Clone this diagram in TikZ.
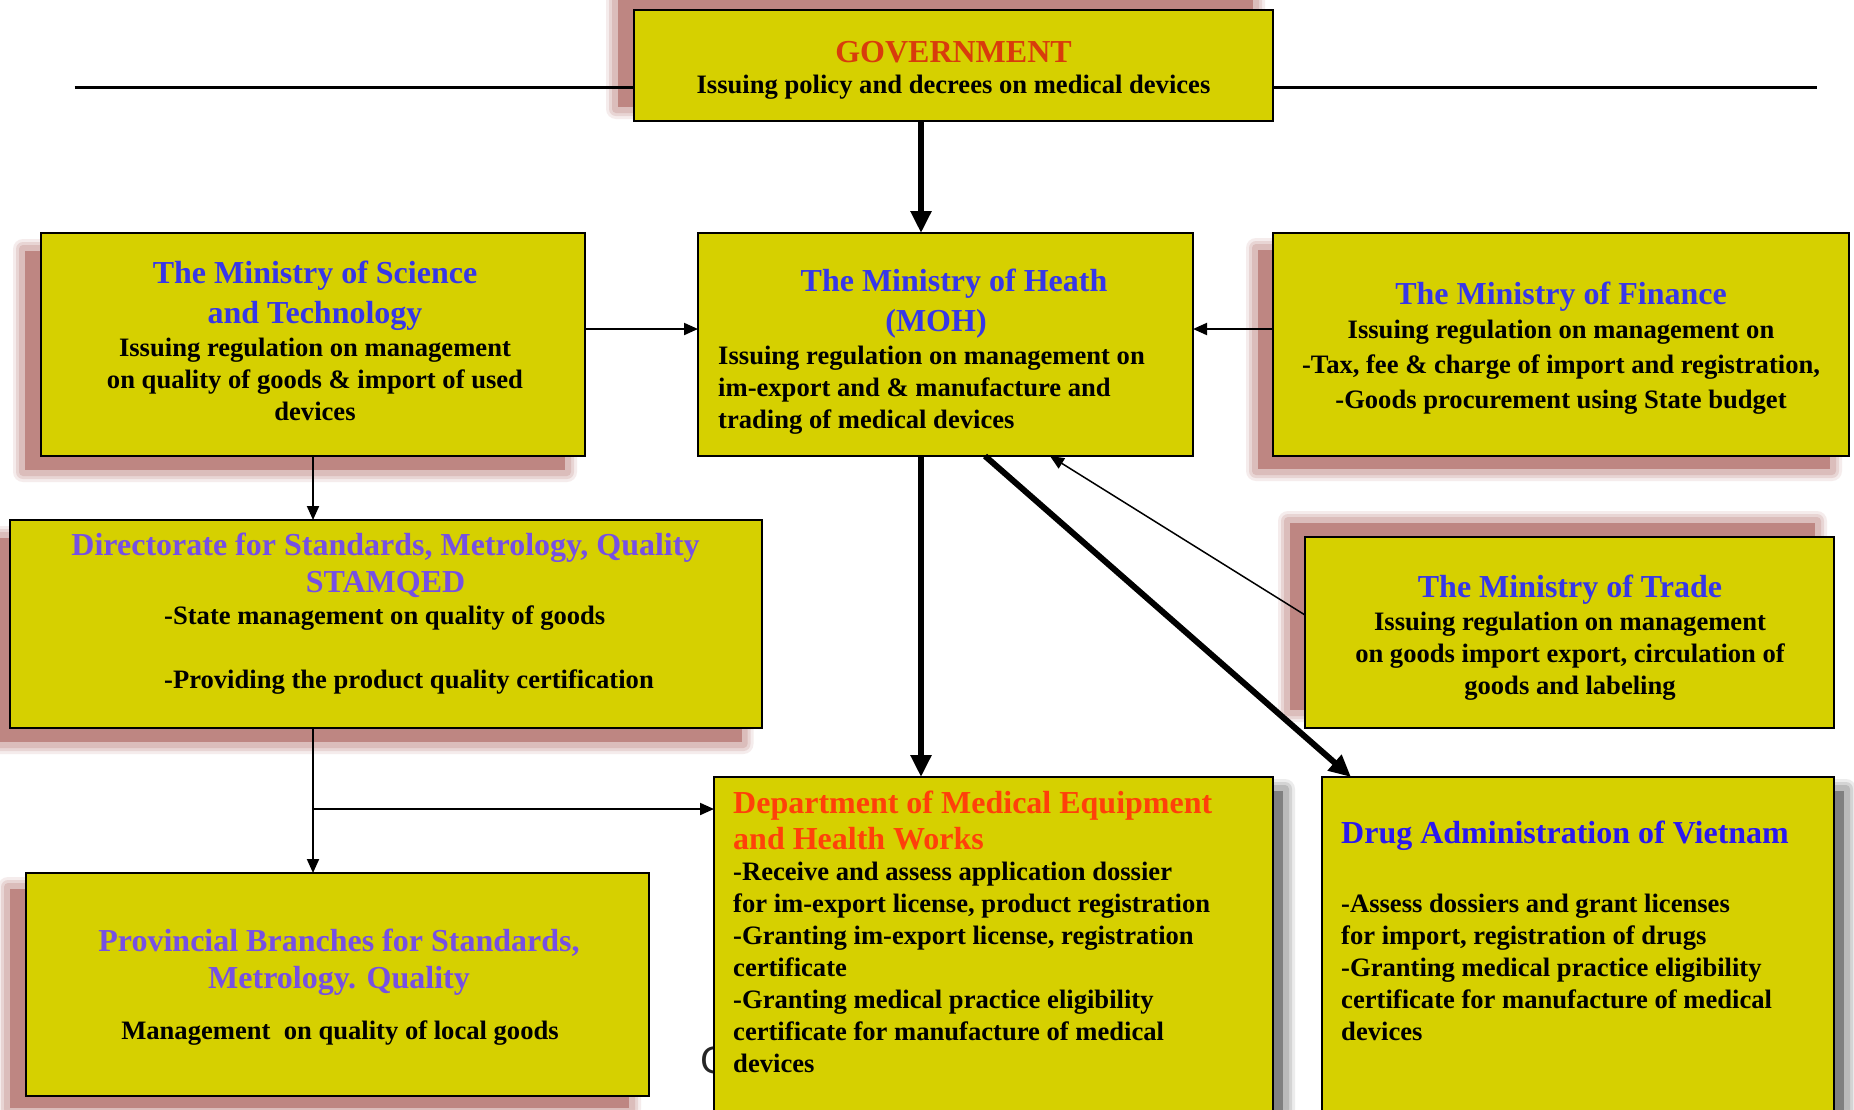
\documentclass[tikz,border=0pt]{standalone}
\usepackage{fontspec}
\setmainfont{Liberation Serif}
\newfontfamily\strayfont{DejaVu Sans}
\usetikzlibrary{arrows.meta}
\definecolor{boxfill}{RGB}{214,208,0}
\definecolor{shadowred}{RGB}{190,134,130}
\definecolor{shadowgray}{RGB}{128,128,128}
\definecolor{govred}{RGB}{216,60,12}
\definecolor{titleblue}{RGB}{55,55,232}
\definecolor{drugblue}{RGB}{42,24,240}
\definecolor{titlepurple}{RGB}{118,80,228}
\definecolor{deptred}{RGB}{255,64,10}
\newcommand{\softshadow}[5]{%
  \foreach \r/\o in {10/0.15,7/0.22,4/0.3}{%
    \fill[#1, opacity=\o, rounded corners=\r pt] (#2-\r,#3-\r) rectangle (#4+\r,#5+\r);}
  \fill[#1] (#2+2,#3+2) rectangle (#4-2,#5-2);
}
\tikzset{
  orgbox/.style={draw=black, line width=2pt, fill=boxfill, anchor=north west, inner sep=0pt, outer sep=0pt},
  txt/.style={inner sep=0pt, font=\bfseries\fontsize{26.6}{32}\selectfont, text=black},
  ttl/.style={inner sep=0pt, font=\bfseries\fontsize{32}{40}\selectfont},
  bigarrow/.style={line width=6pt, -{Triangle[length=22pt,width=20pt]}},
  thinarrow/.style={line width=2pt, -{Triangle[length=14pt,width=12pt]}},
  plainline/.style={line width=2.4pt},
}
\begin{document}
\begin{tikzpicture}[x=1pt,y=-1pt]
\clip (0,0) rectangle (1854,1109);
\fill[white] (0,0) rectangle (1854,1109);

% shadows
\softshadow{shadowred}{616}{-2.5}{1255}{109}
\softshadow{shadowred}{23}{249}{567}{472}
\softshadow{shadowred}{1256}{248}{1832}{471}
\softshadow{shadowred}{-8.5}{536}{743.5}{744}
\softshadow{shadowred}{1288}{521}{1817}{712}
\softshadow{shadowred}{8}{887}{631}{1110}
\softshadow{shadowgray}{726}{789}{1285}{1140}
\softshadow{shadowgray}{1334}{789}{1846}{1140}

% horizontal line behind government box
\coordinate (hl) at (74.5,87.5);
\coordinate (hr) at (1817,87.5);
\draw[plainline] (hl) -- (hr);

% stray glyph partly hidden behind the department box
\node[inner sep=0pt, anchor=west, font=\strayfont\fontsize{36}{40}\selectfont, text=black!85] (stray) at (700,1060) {C};

% boxes
\node[orgbox, minimum width=639pt, minimum height=111pt] (gov) at (634,9.5) {};
\node[orgbox, minimum width=544pt, minimum height=223pt] (mst) at (41,233) {};
\node[orgbox, minimum width=495pt, minimum height=223pt] (moh) at (698,233) {};
\node[orgbox, minimum width=576pt, minimum height=223pt] (mof) at (1273,233) {};
\node[orgbox, minimum width=752pt, minimum height=208pt] (dsmq) at (9.5,520) {};
\node[orgbox, minimum width=529pt, minimum height=191pt] (trade) at (1305,537) {};
\node[orgbox, minimum width=623pt, minimum height=223pt] (prov) at (26,873) {};
\node[orgbox, minimum width=559pt, minimum height=360pt] (dept) at (714,777) {};
\node[orgbox, minimum width=512pt, minimum height=360pt] (drug) at (1322,777) {};

% texts
\node[ttl, text=govred] (govt) at (953.5,52.5) {GOVERNMENT};
\node[txt] (govb) at (953.5,87.5) {Issuing policy and decrees on medical devices};

\node[ttl, text=titleblue, align=center] (mstt) at (315,295.5) {The Ministry of Science\\and Technology};
\node[txt, align=center] (mstb) at (315,379) {Issuing regulation on management\\on quality of goods \& import of used\\devices};

\node[ttl, text=titleblue] (moht1) at (954,283.5) {The Ministry of Heath};
\node[ttl, text=titleblue] (moht2) at (936,323.5) {(MOH)};
\node[txt, align=left, anchor=west] (mohb) at (718,390) {Issuing regulation on management on\\im-export and \& manufacture and\\trading of medical devices};

\node[ttl, text=titleblue] (moft) at (1561,296.5) {The Ministry of Finance};
\node[txt, align=center, font=\bfseries\fontsize{26.6}{35}\selectfont] (mofb) at (1561,367) {Issuing regulation on management on\\-Tax, fee \& charge of import and registration,\\-Goods procurement using State budget};

\node[ttl, text=titlepurple, align=center, font=\bfseries\fontsize{32}{37}\selectfont] (dsmqt) at (385.5,565) {Directorate for Standards, Metrology, Quality\\STAMQED};
\node[txt, align=left, anchor=west] (dsmqb) at (164,650) {-State management on quality of goods\\[32pt]-Providing the product quality certification};

\node[ttl, text=titleblue] (tradet) at (1570,590) {The Ministry of Trade};
\node[txt, align=center] (tradeb) at (1570,656) {Issuing regulation on management\\on goods import export, circulation of\\goods and labeling};

\node[ttl, text=titlepurple, align=center, font=\bfseries\fontsize{32}{37}\selectfont] (provt) at (339,962) {Provincial Branches for Standards,\\Metrology. Quality};
\node[txt] (provb) at (340,1033) {Management\ \ on quality of local goods};

\node[ttl, text=deptred, align=left, anchor=west, font=\bfseries\fontsize{32}{36}\selectfont] (deptt) at (733,820) {Department of Medical Equipment\\and Health Works};
\node[txt, align=left, anchor=west] (deptb) at (733,967) {-Receive and assess application dossier\\for im-export license, product registration\\-Granting im-export license, registration\\certificate\\-Granting medical practice eligibility\\certificate for manufacture of medical\\devices};

\node[ttl, text=drugblue, anchor=west] (drugt) at (1341,836) {Drug Administration of Vietnam};
\node[txt, align=left, anchor=west] (drugb) at (1341,967) {-Assess dossiers and grant licenses\\for import, registration of drugs\\-Granting medical practice eligibility\\certificate for manufacture of medical\\devices};

% connectors
\draw[bigarrow] ([xshift=-32.5pt]gov.south) -- ([xshift=-24.5pt]moh.north);
\draw[bigarrow] ([xshift=-24.5pt]moh.south) -- ([xshift=-72.5pt]dept.north);
\draw[bigarrow] ([xshift=39.5pt]moh.south) -- ([xshift=-227pt]drug.north);
\draw[thinarrow] ([yshift=15.5pt]mst.east) -- ([yshift=15.5pt]moh.west);
\draw[thinarrow] ([yshift=15.5pt]mof.west) -- ([yshift=15.5pt]moh.east);
\draw[thinarrow] (mst.south) -- ([xshift=-72.5pt]dsmq.north);
\draw[thinarrow, line width=1.5pt] ([yshift=17.5pt]trade.west) -- ([xshift=104.5pt]moh.south);
\coordinate (br) at (313,809);
\draw[thinarrow] ([xshift=-72.5pt]dsmq.south) -- ([xshift=-24.5pt]prov.north);
\draw[thinarrow] (br) -- (br -| dept.west);
\end{tikzpicture}
\end{document}
